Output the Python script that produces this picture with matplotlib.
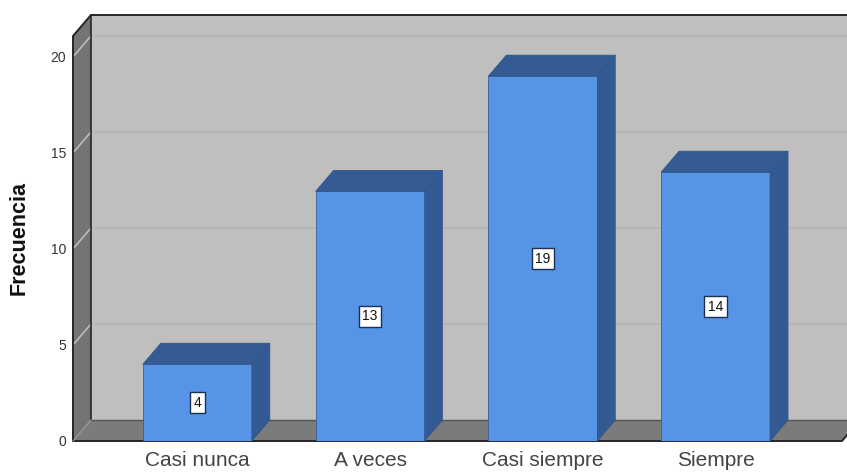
import matplotlib
matplotlib.use('Agg')
import matplotlib.pyplot as plt
from matplotlib.patches import Polygon

# --------------------------- Data ---------------------------
categories = ['Casi nunca', 'A veces', 'Casi siempre', 'Siempre']
counts = [4, 13, 19, 14]
y_ticks = [0, 5, 10, 15, 20]

# --------------------------- Style ---------------------------
plt.rcParams['font.family'] = ['Liberation Sans', 'DejaVu Sans']

W, H = 847, 472
fig = plt.figure(figsize=(W / 100, H / 100), dpi=100, facecolor='white')
ax = fig.add_axes([73 / W, 1 - 441 / H, 769 / W, 405 / H])
ax.set_xlim(-0.72, 3.732)
ax.set_ylim(0, 21.09)

# 3D offset of the back plane, in data units
dx, dy = 0.104, 1.094
bar_width = 0.631
x0, x1 = ax.get_xlim()
top = ax.get_ylim()[1]

# --------------------------- Walls and floor ---------------------------
edge = '#262626'
ax.add_patch(Polygon([(x0 + dx, dy), (x1 + dx, dy), (x1 + dx, top + dy), (x0 + dx, top + dy)],
                     fc='#bfbfbf', ec='none', clip_on=False, zorder=1))
ax.add_patch(Polygon([(x0, 0), (x0 + dx, dy), (x0 + dx, top + dy), (x0, top)],
                     fc='#747474', ec='none', clip_on=False, zorder=1))
ax.add_patch(Polygon([(x0, 0), (x1, 0), (x1 + dx, dy), (x0 + dx, dy)],
                     fc='#7b7b7b', ec='none', clip_on=False, zorder=1))

for t in y_ticks[1:]:
    ax.plot([x0 + dx, x1 + dx], [t + dy, t + dy], color='#b6b6b6', lw=1.3, clip_on=False, zorder=2)
    ax.plot([x0, x0 + dx], [t, t + dy], color='#c9c9c9', lw=1.0, clip_on=False, zorder=2)

# Dark frame lines around the box
ax.plot([x0, x0, x0 + dx, x1 + dx], [0, top, top + dy, top + dy], color=edge, lw=1.4, clip_on=False, zorder=3)
ax.plot([x0 + dx, x0 + dx], [top + dy, dy], color=edge, lw=1.2, clip_on=False, zorder=3)
ax.plot([x0 + dx, x1 + dx], [dy, dy], color='#555555', lw=1.0, clip_on=False, zorder=3)
ax.plot([x0, x1, x1 + dx], [0, 0, dy], color=edge, lw=1.4, clip_on=False, zorder=3)
ax.plot([x0, x0 + dx], [0, dy], color='#9a9a9a', lw=0.8, clip_on=False, zorder=3)

# --------------------------- Bars ---------------------------
positions = list(range(len(categories)))
ax.bar(positions, counts, width=bar_width, color='#5594e6', edgecolor='#3a5f96', linewidth=0.6, zorder=4)

for pos, count in zip(positions, counts):
    left, right = pos - bar_width / 2, pos + bar_width / 2
    ax.add_patch(Polygon([(left, count), (right, count), (right + dx, count + dy), (left + dx, count + dy)],
                         fc='#345b94', ec='#2f5387', lw=0.5, clip_on=False, zorder=4))
    ax.add_patch(Polygon([(right, 0), (right + dx, dy), (right + dx, count + dy), (right, count)],
                         fc='#335a92', ec='#2f5387', lw=0.5, clip_on=False, zorder=4))
    ax.text(pos, count / 2, str(count), ha='center', va='center', fontsize=10, color='#111111', zorder=5,
            bbox=dict(boxstyle='square,pad=0.25', fc='white', ec='#1c2f55', lw=1.0))

# --------------------------- Axes ---------------------------
for spine in ax.spines.values():
    spine.set_visible(False)
ax.patch.set_visible(False)
ax.set_xticks(positions)
ax.set_xticklabels(categories, fontsize=15, color='#444444')
ax.set_yticks(y_ticks)
ax.set_yticklabels([str(t) for t in y_ticks], fontsize=10, color='#333333')
ax.tick_params(axis='both', length=0)
ax.tick_params(axis='x', pad=7.5)
ax.tick_params(axis='y', pad=5)
ax.set_ylabel('Frecuencia', fontsize=15.5, fontweight='bold', color='#111111')
ax.yaxis.set_label_coords(-0.056, 0.5)

fig.savefig('out.png', dpi=100)
